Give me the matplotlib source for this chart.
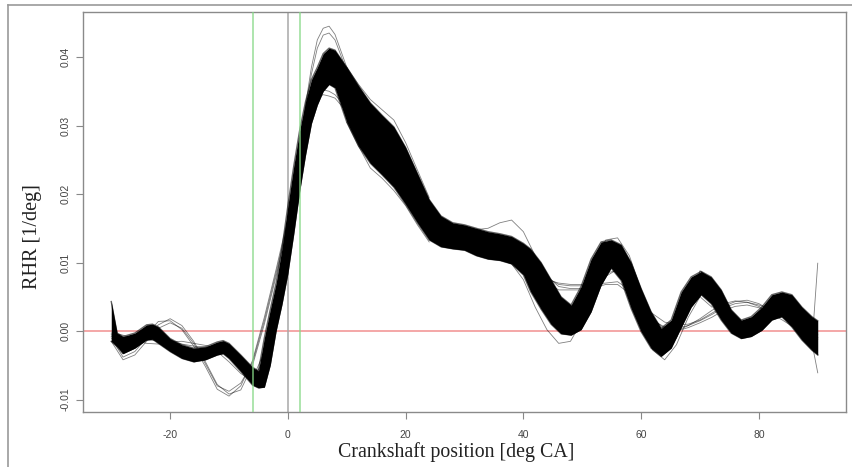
import numpy as np
import matplotlib
matplotlib.use("Agg")
import matplotlib.pyplot as plt
from matplotlib.lines import Line2D

plt.rcParams['font.family'] = ['Liberation Sans', 'DejaVu Sans']

# crank angle [deg CA] and top / bottom edge of the dense bundle of RHR curves (1e-3 /deg)
band_x = [-30, -29, -28, -26, -24, -23, -22, -20, -18, -16, -14, -12, -11, -10, -8, -7, -6,
          -5, -4, -3, -2, -1, 0, 1, 2, 3, 4, 5, 6, 7, 8, 10, 12, 14, 16, 18, 20, 22, 24, 26,
          28, 30, 32, 34, 36, 38, 40, 41.2, 43.0, 44.7, 46.4, 48.1, 49.8, 51.5, 53.2, 54.9,
          56.6, 58.3, 60.0, 61.7, 63.4, 65.1, 66.8, 68.5, 70.2, 71.9, 73.6, 75.3, 77.0, 78.7,
          80.5, 82.2, 83.9, 85.6, 87.3, 89.0, 90.0]
band_upper = [4.3, -0.3, -0.8, -0.3, 0.9, 1.0, 0.6, -1.1, -2.0, -2.5, -2.3, -1.6, -1.4, -1.8,
              -3.5, -4.4, -5.3, -5.8, -1.0, 3.1, 7.0, 12.1, 18.3, 24.1, 29.3, 33.5, 36.7, 38.5,
              40.5, 41.3, 41.0, 38.5, 35.8, 33.3, 31.5, 29.8, 26.8, 23.0, 19.2, 16.8, 15.8,
              15.5, 15.0, 14.5, 14.2, 13.8, 12.8, 12.0, 10.0, 7.5, 5.0, 3.8, 6.5, 10.5, 13.0,
              13.3, 12.6, 10.0, 6.2, 2.8, 0.4, 1.6, 5.7, 7.9, 8.7, 7.9, 6.0, 3.1, 1.6, 2.1,
              3.5, 5.3, 5.7, 5.3, 3.5, 2.1, 1.5]
band_lower = [-1.5, -2.3, -3.3, -2.5, -1.3, -1.2, -1.8, -3.0, -4.0, -4.5, -4.2, -3.5, -3.3,
              -4.0, -5.9, -6.9, -7.9, -8.3, -8.2, -5.0, 0.0, 3.9, 8.4, 14.2, 20.4, 25.7, 30.3,
              33.0, 35.0, 36.0, 35.5, 30.5, 27.0, 24.5, 22.8, 21.0, 18.5, 15.8, 13.3, 12.3,
              12.0, 11.8, 11.0, 10.5, 10.3, 9.8, 8.2, 5.8, 3.2, 1.0, -0.4, -0.6, 0.2, 2.8, 6.7,
              9.2, 7.4, 3.3, -0.1, -2.5, -3.7, -2.5, 0.5, 3.5, 5.3, 4.0, 1.6, -0.3, -1.1, -0.8,
              0.1, 1.6, 2.1, 0.6, -1.3, -2.8, -3.5]

# single curves that leave the bundle
left_x = [-30, -28, -26, -24, -22, -20, -18, -16, -14, -12, -10, -8, -6, -4, -2, 0, 2]
left_curves = [
    [-1.0, -3.8, -3.0, -1.0, 0.9, 1.8, 0.8, -1.5, -4.5, -7.8, -9.2, -8.6, -5.0, 1.0, 8.0, 15.5, 22.5],
    [-0.5, -3.3, -2.5, -0.5, 1.4, 1.5, 0.2, -2.2, -5.2, -8.5, -9.5, -8.0, -4.3, 2.0, 9.0, 16.5, 23.0],
    [-1.5, -4.2, -3.5, -1.5, 0.4, 1.2, 0.4, -1.8, -4.8, -8.0, -8.8, -7.6, -4.6, 1.5, 8.5, 16.0, 22.0],
    [-0.8, -1.0, -1.2, -1.3, -1.4, -1.6, -1.9, -2.2, -2.4, -3.0, -4.5, -6.2, -7.3, -4.0, 3.0, 11.0, 20.0],
    [-0.3, -0.6, -1.4, -1.8, -1.9, -1.6, -1.5, -1.8, -2.1, -2.6, -3.8, -5.6, -7.0, -3.0, 4.0, 12.0, 21.0],
]
peak_x = [2, 3, 4, 5, 6, 7, 8, 10, 12]
peak_curves = [
    [27.0, 33.0, 38.5, 42.5, 44.2, 44.5, 43.3, 38.5, 34.8],
    [26.5, 32.5, 37.5, 41.3, 43.2, 43.5, 42.5, 38.0, 34.5],
    [25.0, 29.5, 32.5, 34.0, 34.5, 34.3, 34.0, 32.0, 29.0],
    [25.5, 30.0, 33.0, 34.8, 35.2, 35.0, 34.5, 32.5, 29.5],
]
mid_x = [10, 12, 14, 16, 18, 20, 22, 24]
mid_curves = [
    [38.5, 36.0, 33.8, 32.3, 30.8, 27.5, 23.5, 19.5],
    [30.5, 27.0, 23.8, 22.3, 20.5, 18.3, 15.5, 13.0],
]
dip_x = [32, 34, 36, 38, 40, 42, 44, 46, 48, 50, 52]
dip_curves = [
    [14.8, 15.0, 15.8, 16.2, 14.5, 11.0, 6.5, 3.0, 1.5, 4.0, 9.0],
    [11.5, 10.8, 10.5, 9.8, 7.5, 3.5, 0.2, -1.8, -1.5, 1.5, 6.0],
]
flat_x = [42, 44, 46, 48, 50, 52, 54, 56, 58, 60, 62, 64, 66, 68, 70, 72, 74, 76, 78, 80,
          82, 84, 86, 88, 90]
flat_curves = [
    [9.0, 7.5, 7.0, 6.8, 6.8, 6.8, 7.0, 7.2, 6.0, 4.0, 2.5, 1.3, 0.9, 1.0, 1.6, 2.6, 3.6, 4.3,
     4.5, 4.0, 3.0, 2.0, 0.8, 0.3, -0.5],
    [10.0, 8.0, 6.5, 6.2, 6.2, 6.3, 6.8, 6.8, 5.5, 3.2, 1.5, 0.6, 0.4, 0.8, 1.8, 3.0, 4.0, 4.4,
     4.2, 3.6, 2.6, 1.6, 0.5, -0.5, -1.0],
    [9.5, 7.8, 6.8, 6.6, 6.6, 7.0, 8.5, 8.8, 6.5, 4.0, 1.8, 0.3, 0.0, 0.5, 1.2, 2.0, 3.0, 3.6,
     3.8, 3.4, 2.8, 2.4, 1.2, 0.0, -1.0],
    [9.0, 7.0, 6.0, 6.0, 6.0, 7.5, 9.5, 9.0, 6.0, 2.0, 0.0, -0.5, 0.0, 0.8, 1.5, 2.4, 3.4, 4.0,
     4.2, 3.8, 3.2, 2.2, 1.0, 0.0, -1.2],
]
osc_x = [50, 52, 54, 56, 58, 60, 62, 64, 66, 68, 70, 72]
osc_curves = [
    [4.5, 10.0, 13.3, 13.6, 11.0, 6.0, 1.0, -2.8, -1.0, 3.5, 8.8, 7.5],
    [0.5, 4.5, 8.0, 9.0, 6.5, 1.5, -2.8, -4.2, -2.0, 2.0, 5.0, 3.5],
]
end_x = [88, 89.3, 90]
end_curves = [
    [0.0, 1.5, 9.9],
    [-1.0, -3.0, -6.1],
]

x_ticks = [-20, 0, 20, 40, 60, 80]
y_ticks = [-0.01, 0.0, 0.01, 0.02, 0.03, 0.04]
y_ticklabels = ['-0.01', '0.00', '0.01', '0.02', '0.03', '0.04']

fig = plt.figure(figsize=(8.52, 4.67), dpi=100)
ax = fig.add_axes([83 / 852, 55 / 467, 763 / 852, 400 / 467])

scale = 1e-3
ax.fill_between(band_x, np.array(band_lower) * scale, np.array(band_upper) * scale,
                color='black', lw=0, zorder=3)
ax.plot(band_x, np.array(band_upper) * scale, color='black', lw=1.0, alpha=0.6, zorder=3,
        solid_joinstyle='round')
ax.plot(band_x, np.array(band_lower) * scale, color='black', lw=1.0, alpha=0.6, zorder=3,
        solid_joinstyle='round')

groups = [(left_x, left_curves), (peak_x, peak_curves), (mid_x, mid_curves),
          (dip_x, dip_curves), (flat_x, flat_curves), (osc_x, osc_curves), (end_x, end_curves)]
for gx, curves in groups:
    for c in curves:
        ax.plot(gx, np.array(c) * scale, color='black', lw=0.6, alpha=0.5, zorder=2)

ax.axhline(0, color='#f3a0a0', lw=1.3, zorder=1)
ax.axvline(0, color='#a8a8a8', lw=1.1, zorder=1)
ax.axvline(-6, color='#86d886', lw=1.1, alpha=0.85, zorder=4)
ax.axvline(2, color='#86d886', lw=1.1, alpha=0.85, zorder=4)

ax.set_xlim(-34.8, 94.8)
ax.set_ylim(-0.01182, 0.04657)
ax.set_xticks(x_ticks)
ax.set_xticklabels([str(t) for t in x_ticks])
ax.set_yticks(y_ticks)
ax.set_yticklabels(y_ticklabels, rotation=90, va='center')
ax.tick_params(direction='out', length=5, width=0.8, color='#888888', labelsize=7.5,
               labelcolor='#444444')
ax.tick_params(axis='x', pad=8)
ax.tick_params(axis='y', pad=4)
for s in ax.spines.values():
    s.set_color('#8a8a8a')
    s.set_linewidth(1.0)

fig.text(456 / 852, 1 - 452 / 467, 'Crankshaft position [deg CA]', ha='center', va='center',
         fontsize=14.3, family=['Liberation Serif', 'DejaVu Serif'], color='#222222')
fig.text(33 / 852, 1 - 237 / 467, 'RHR [1/deg]', ha='center', va='center', rotation=90,
         fontsize=14.5, family=['Liberation Serif', 'DejaVu Serif'], color='#222222')

# outer frame of the original screenshot (top and left only)
fig.add_artist(Line2D([8 / 852, 1], [1 - 5 / 467, 1 - 5 / 467], transform=fig.transFigure,
                      color='#9a9a9a', lw=1.2))
fig.add_artist(Line2D([8 / 852, 8 / 852], [0, 1 - 5 / 467], transform=fig.transFigure,
                      color='#9a9a9a', lw=1.2))

fig.savefig('out.png', dpi=100)
